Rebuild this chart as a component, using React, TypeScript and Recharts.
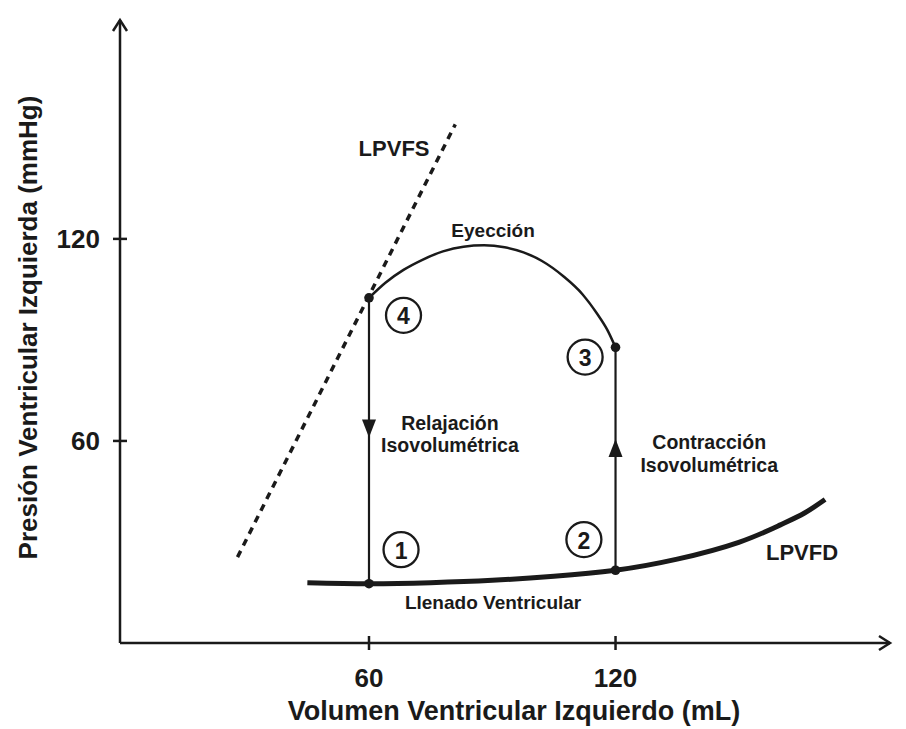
import { ComposedChart, Line, Scatter, XAxis, YAxis, ReferenceDot, Label } from "recharts";

const FONT = '"Liberation Sans", Arial, Helvetica, sans-serif';
const INK = "#1a1a1a";

// axis ranges (volume in mL, pressure in mmHg)
const X_MIN = -0.6;
const X_MAX = 186.8;
const Y_MIN = 0;
const Y_MAX = 185;

const xTicks = [60, 120];
const yTicks = [60, 120];

// end-diastolic pressure-volume relation (LPVFD)
const lpvfd = [
  { x: 45, y: 17.9 },
  { x: 60, y: 17.6 },
  { x: 75, y: 17.9 },
  { x: 90, y: 18.6 },
  { x: 105, y: 19.8 },
  { x: 120, y: 21.6 },
  { x: 135, y: 24.9 },
  { x: 150, y: 29.9 },
  { x: 160, y: 35 },
  { x: 166, y: 38.6 },
  { x: 171, y: 42.6 },
];

// end-systolic pressure-volume relation (LPVFS)
const lpvfs = [
  { x: 28, y: 25.5 },
  { x: 81, y: 154 },
];

// ejection phase, drawn left to right (4 <- 3)
const ejection = [
  { x: 60, y: 102.5 },
  { x: 64, y: 107 },
  { x: 68.4, y: 110.8 },
  { x: 73, y: 113.8 },
  { x: 78, y: 116.3 },
  { x: 83, y: 117.7 },
  { x: 88, y: 118.1 },
  { x: 93, y: 117.5 },
  { x: 97.6, y: 116 },
  { x: 102, y: 113.5 },
  { x: 107.3, y: 108.9 },
  { x: 112, y: 103.5 },
  { x: 115.4, y: 98 },
  { x: 118, y: 93 },
  { x: 120, y: 87.8 },
];

const relaxation = [
  { x: 60, y: 102.5 },
  { x: 60, y: 17.6 },
];

const contraction = [
  { x: 120, y: 21.6 },
  { x: 120, y: 87.8 },
];

const loopCorners = [
  { x: 60, y: 17.6 },
  { x: 120, y: 21.6 },
  { x: 120, y: 87.8 },
  { x: 60, y: 102.5 },
];

const badges = [
  { n: "1", x: 67.8, y: 27.7 },
  { n: "2", x: 112.3, y: 30.7 },
  { n: "3", x: 112.6, y: 84.9 },
  { n: "4", x: 68.4, y: 97.3 },
];

const flowArrows = [
  { x: 60, y: 61, dir: "down" },
  { x: 120, y: 60.6, dir: "up" },
];

const annotations = [
  { text: "LPVFS", x: 66.1, y: 146.8, size: 22 },
  { text: "Eyección", x: 90.2, y: 122.4, size: 19 },
  { text: "Relajación", x: 79.7, y: 65.4, size: 19.5 },
  { text: "Isovolumétrica", x: 79.7, y: 58.9, size: 19.5 },
  { text: "Contracción", x: 142.8, y: 59.7, size: 19.5 },
  { text: "Isovolumétrica", x: 142.8, y: 52.9, size: 19.5 },
  { text: "Llenado Ventricular", x: 90.2, y: 11.9, size: 19 },
  { text: "LPVFD", x: 165.4, y: 26.8, size: 22 },
];

const Dot = (p: any) => <circle cx={p.cx} cy={p.cy} r={4.8} fill={INK} />;

const renderBadge = (n: string) => (p: any) => (
  <g>
    <circle cx={p.cx} cy={p.cy} r={17.5} fill="#fff" stroke={INK} strokeWidth={2.3} />
    <text x={p.cx} y={p.cy + 1} textAnchor="middle" dominantBaseline="central"
      fontFamily={FONT} fontWeight="bold" fontSize={23} fill={INK}>{n}</text>
  </g>
);

const renderFlowArrow = (dir: string) => (p: any) => {
  const s = dir === "down" ? -1 : 1;
  return (
    <path d={`M${p.cx},${p.cy} L${p.cx - 7},${p.cy + s * 18} L${p.cx + 7},${p.cy + s * 18} Z`} fill={INK} />
  );
};

const renderText = (a: any) => (p: any) => (
  <text x={p.cx} y={p.cy} textAnchor="middle" dominantBaseline="central"
    fontFamily={FONT} fontWeight="bold" fontSize={a.size} fill={INK}>{a.text}</text>
);

// axis tick marks cross the axis line
const XTickMark = (p: any) => <line x1={p.cx} x2={p.cx} y1={p.cy - 7} y2={p.cy + 7} stroke={INK} strokeWidth={2.5} />;
const YTickMark = (p: any) => <line x1={p.cx - 7} x2={p.cx + 7} y1={p.cy} y2={p.cy} stroke={INK} strokeWidth={2.5} />;

const UpHead = (p: any) => (
  <path d={`M${p.cx - 7},${p.cy + 11} L${p.cx},${p.cy} L${p.cx + 7},${p.cy + 11}`} fill="none" stroke={INK} strokeWidth={2.5} />
);
const RightHead = (p: any) => (
  <path d={`M${p.cx - 11},${p.cy - 7} L${p.cx},${p.cy} L${p.cx - 11},${p.cy + 7}`} fill="none" stroke={INK} strokeWidth={2.5} />
);

const xLabel = (props: any) => {
  const vb = props.viewBox;
  return (
    <text x={vb.x + vb.width / 2 + 9} y={vb.y + 68} textAnchor="middle" dominantBaseline="central"
      fontFamily={FONT} fontWeight="bold" fontSize={27} fill={INK}>Volumen Ventricular Izquierdo (mL)</text>
  );
};

const yLabel = (props: any) => {
  const vb = props.viewBox;
  const cx = vb.x + 28;
  const cy = vb.y + vb.height / 2 - 4;
  return (
    <text x={cx} y={cy} transform={`rotate(-90 ${cx} ${cy})`} textAnchor="middle" dominantBaseline="central"
      fontFamily={FONT} fontWeight="bold" fontSize={26} fill={INK}>Presión Ventricular Izquierda (mmHg)</text>
  );
};

const tickStyle = { fontSize: 26, fontWeight: "bold", fill: INK, fontFamily: FONT };

export default function App() {
  return (
    <div style={{ position: "absolute", left: 0, top: 0, background: "#fff" }}>
      <ComposedChart width={906} height={729} margin={{ top: 20, right: 16, left: 0, bottom: 0 }}>
        <XAxis type="number" dataKey="x" domain={[X_MIN, X_MAX]} allowDataOverflow ticks={xTicks} interval={0}
          tickLine={false} tickSize={7} tickMargin={19} tick={tickStyle} height={86}
          axisLine={{ stroke: INK, strokeWidth: 2.5 }}>
          <Label content={xLabel} />
        </XAxis>
        <YAxis type="number" dataKey="y" domain={[Y_MIN, Y_MAX]} allowDataOverflow ticks={yTicks} interval={0}
          tickLine={false} tickSize={7} tickMargin={13} tick={tickStyle} width={120}
          axisLine={{ stroke: INK, strokeWidth: 2.5 }}>
          <Label content={yLabel} />
        </YAxis>

        {xTicks.map((t) => (
          <ReferenceDot key={`xt${t}`} x={t} y={Y_MIN} shape={XTickMark} ifOverflow="visible" />
        ))}
        {yTicks.map((t) => (
          <ReferenceDot key={`yt${t}`} x={X_MIN} y={t} shape={YTickMark} ifOverflow="visible" />
        ))}
        <ReferenceDot x={X_MIN} y={Y_MAX} shape={UpHead} ifOverflow="visible" />
        <ReferenceDot x={X_MAX} y={Y_MIN} shape={RightHead} ifOverflow="visible" />

        <Line data={lpvfs} dataKey="y" type="linear" stroke={INK} strokeWidth={3.5} strokeDasharray="7 6"
          dot={false} activeDot={false} isAnimationActive={false} />
        <Line data={lpvfd} dataKey="y" type="natural" stroke={INK} strokeWidth={5}
          dot={false} activeDot={false} isAnimationActive={false} />
        <Line data={ejection} dataKey="y" type="monotone" stroke={INK} strokeWidth={2.5}
          dot={false} activeDot={false} isAnimationActive={false} />
        <Line data={relaxation} dataKey="y" type="linear" stroke={INK} strokeWidth={2.2}
          dot={false} activeDot={false} isAnimationActive={false} />
        <Line data={contraction} dataKey="y" type="linear" stroke={INK} strokeWidth={2.2}
          dot={false} activeDot={false} isAnimationActive={false} />
        <Scatter data={loopCorners} dataKey="y" shape={Dot} isAnimationActive={false} />

        {flowArrows.map((a, i) => (
          <ReferenceDot key={`fa${i}`} x={a.x} y={a.y} shape={renderFlowArrow(a.dir)} ifOverflow="visible" />
        ))}
        {badges.map((b) => (
          <ReferenceDot key={`b${b.n}`} x={b.x} y={b.y} shape={renderBadge(b.n)} ifOverflow="visible" />
        ))}
        {annotations.map((a, i) => (
          <ReferenceDot key={`an${i}`} x={a.x} y={a.y} shape={renderText(a)} ifOverflow="visible" />
        ))}
      </ComposedChart>
    </div>
  );
}
